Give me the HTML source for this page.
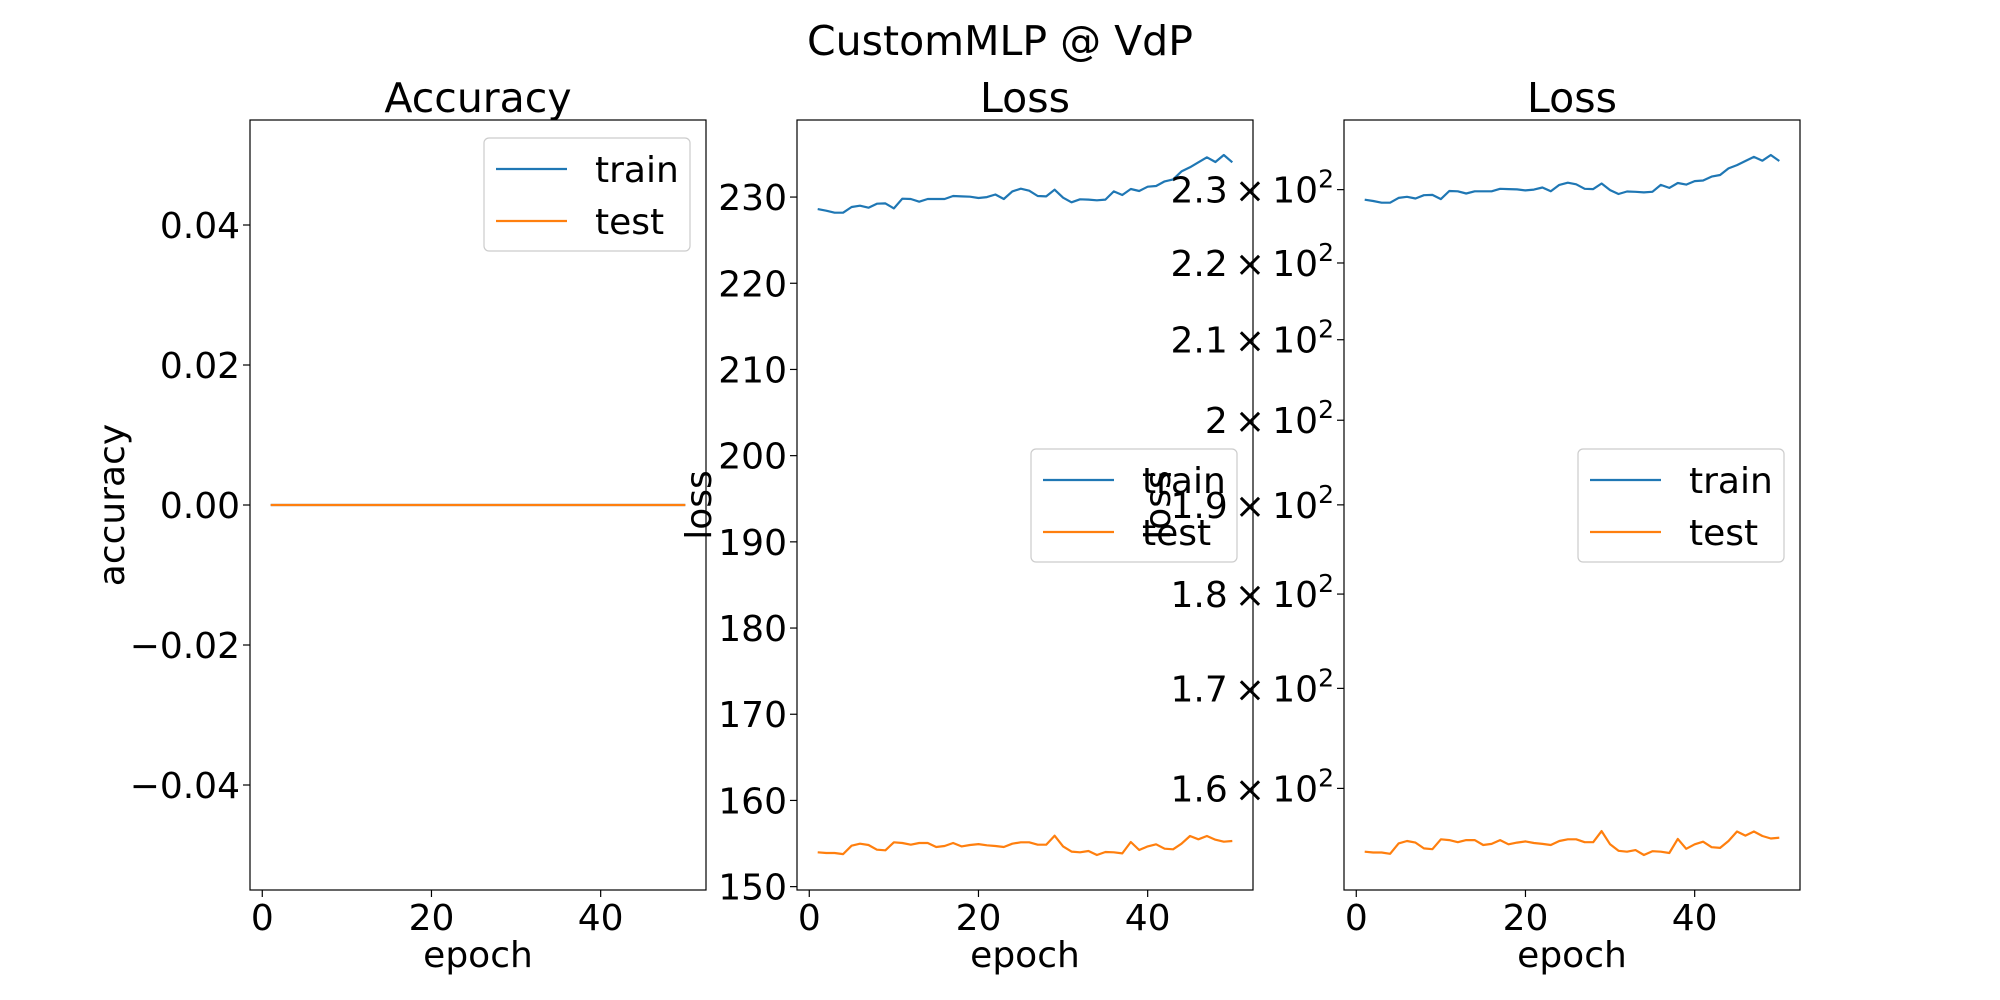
<!DOCTYPE html>
<html><head><meta charset="utf-8"><style>
html,body{margin:0;padding:0;background:#fff;}
svg{display:block;font-family:"DejaVu Sans","Liberation Sans",sans-serif;}
</style></head><body>
<svg id="fig" width="2000" height="1000" viewBox="0 0 2000 1000">
<rect width="2000" height="1000" fill="#fff"/>
<text x="1000" y="55" font-size="41" text-anchor="middle">CustomMLP @ VdP</text>
</svg>
<script>
const epochs = Array.from({length:50},(_,i)=>i+1);
const trainLoss = [228.6,228.42,228.19,228.19,228.85,229.0,228.77,229.23,229.27,228.69,229.81,229.77,229.46,229.77,229.77,229.77,230.12,230.08,230.04,229.89,230.0,230.3,229.77,230.66,230.97,230.74,230.12,230.08,230.86,229.93,229.39,229.74,229.70,229.62,229.7,230.66,230.24,230.93,230.7,231.2,231.28,231.82,232.05,232.98,233.45,234.03,234.61,234.07,234.88,234.03];
const testLoss = [153.98,153.9,153.9,153.78,154.75,154.98,154.83,154.29,154.21,155.14,155.06,154.87,155.06,155.06,154.6,154.71,155.06,154.67,154.83,154.94,154.79,154.71,154.6,154.98,155.14,155.14,154.87,154.87,155.91,154.67,154.06,153.98,154.13,153.67,154.02,153.98,153.86,155.18,154.25,154.67,154.91,154.4,154.33,154.98,155.87,155.49,155.87,155.45,155.21,155.29];
const trainAcc = Array(50).fill(0);
const testAcc = Array(50).fill(0);
const xTicks = [0,20,40];
const accTicks = [0.04,0.02,0.00,-0.02,-0.04];
const accTickLabels = ["0.04","0.02","0.00","\u22120.02","\u22120.04"];
const lossTicks = [150,160,170,180,190,200,210,220,230];
const logTicks = [160,170,180,190,200,210,220,230];
const logTickLabels = ["1.6","1.7","1.8","1.9","2","2.1","2.2","2.3"];

const NS="http://www.w3.org/2000/svg";
const svg=document.getElementById('fig');
function el(tag,attrs,parent){const e=document.createElementNS(NS,tag);for(const k in attrs)e.setAttribute(k,attrs[k]);(parent||svg).appendChild(e);return e;}
const TOP=120,BOT=890,W=456;
const lefts=[250,797,1344];
const xmin=-1.45,xmax=52.45;
function mkX(L){return v=>L+(v-xmin)/(xmax-xmin)*W;}
const lmin=Math.min(...testLoss),lmax=Math.max(...trainLoss),lr=lmax-lmin;
const linDom=[lmin-0.05*lr,lmax+0.05*lr];
const llo=Math.log10(lmin),lhi=Math.log10(lmax),ls=lhi-llo;
const logDom=[llo-0.05*ls,lhi+0.05*ls];
const yAcc=v=>BOT-(v+0.055)/0.11*(BOT-TOP);
const yLin=v=>BOT-(v-linDom[0])/(linDom[1]-linDom[0])*(BOT-TOP);
const yLog=v=>BOT-(Math.log10(v)-logDom[0])/(logDom[1]-logDom[0])*(BOT-TOP);

function panel(i,title,yf,series,ticks,labels,ylabel,ylabX,legY,isLog){
  const L=lefts[i],xf=mkX(L);
  const g=el('g',{});
  
  
  const t=el('text',{x:L+W/2,y:112,'font-size':41,'text-anchor':'middle'},g);t.textContent=title;
  
  
  ['train','test'].forEach((n,k)=>{
    const d=series[k].map((v,j)=>(j?'L':'M')+xf(epochs[j]).toFixed(1)+','+yf(v).toFixed(1)).join(' ');
    const p=el('path',{d:d,fill:'none',stroke:k?'#ff7f0e':'#1f77b4','stroke-width':2.2,'stroke-linejoin':'round'},g);
    
    
  });
  xTicks.forEach(v=>{
    el('line',{x1:xf(v),x2:xf(v),y1:BOT,y2:BOT+7,stroke:'#000','stroke-width':1.2},g);
    const tx=el('text',{x:xf(v),y:BOT+40,'font-size':36,'text-anchor':'middle'},g);tx.textContent=v;
    
    
  });
  ticks.forEach((v,k)=>{
    const y=yf(v);
    el('line',{x1:L-7,x2:L,y1:y,y2:y,stroke:'#000','stroke-width':1.2},g);
    const tx=el('text',{x:L-10,y:y+13,'font-size':36,'text-anchor':'end'},g);
    if(isLog){tx.textContent=labels[k]+'\u2009\u00d7\u200910';const s=el('tspan',{dy:-15,'font-size':25},tx);s.textContent='2';}
    else tx.textContent=labels[k];
    
    
  });
  const xl=el('text',{x:L+W/2,y:967,'font-size':36,'text-anchor':'middle'},g);xl.textContent='epoch';
  
  
  const yl=el('text',{x:ylabX,y:505,'font-size':36,'text-anchor':'middle',transform:`rotate(-90 ${ylabX} 505)`},g);yl.textContent=ylabel;
  
  
  el('rect',{x:L,y:TOP,width:W,height:BOT-TOP,fill:'none',stroke:'#000','stroke-width':1.2},g);
  const lx=L+W-222, lg=el('g',{},g);
  
  
  el('rect',{x:lx,y:legY,width:206,height:113,rx:5,fill:'#fff','fill-opacity':0.8,stroke:'#ccc','stroke-width':1.2},lg);
  ['train','test'].forEach((n,k)=>{
    const yy=legY+31+k*52;
    el('line',{x1:lx+12,x2:lx+83,y1:yy,y2:yy,stroke:k?'#ff7f0e':'#1f77b4','stroke-width':2.2},lg);
    const tx=el('text',{x:lx+111,y:yy+13,'font-size':36},lg);tx.textContent=n;
    
    
  });
}
panel(0,'Accuracy',yAcc,[trainAcc,testAcc],accTicks,accTickLabels,'accuracy',124,138,false);
panel(1,'Loss',yLin,[trainLoss,testLoss],lossTicks,lossTicks.map(String),'loss',711,449,false);
panel(2,'Loss',yLog,[trainLoss,testLoss],logTicks,logTickLabels,'loss',1170,449,true);
</script>
</body></html>
